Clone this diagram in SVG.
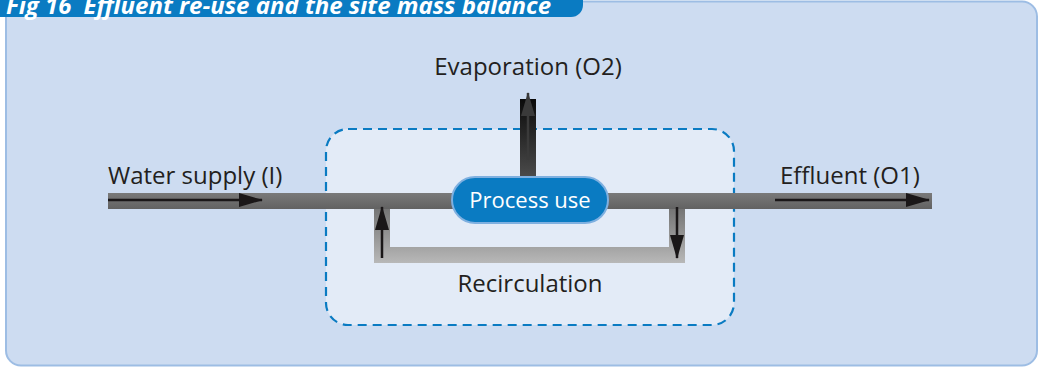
<svg xmlns="http://www.w3.org/2000/svg" width="1040" height="368" viewBox="0 0 1040 368">
<style>
.lbl{font-family:"Open Sans","Noto Sans","Liberation Sans",sans-serif;font-size:24px;fill:#231f20}
.title{font-family:"Open Sans","Noto Sans","Liberation Sans",sans-serif;font-size:24px;font-weight:bold;font-style:italic;fill:#ffffff}
.arr{stroke:#1a1718;stroke-width:2.5;fill:none}
</style>
<defs>
<linearGradient id="pipeH" x1="0" y1="0" x2="0" y2="1">
<stop offset="0" stop-color="#7a7a7a"/><stop offset="1" stop-color="#626262"/>
</linearGradient>
<linearGradient id="loop" x1="0" y1="0" x2="0" y2="1">
<stop offset="0" stop-color="#707070"/><stop offset="0.6" stop-color="#9a9a9a"/><stop offset="1" stop-color="#b8b8b8"/>
</linearGradient>
<linearGradient id="evap" x1="0" y1="0" x2="0" y2="1">
<stop offset="0" stop-color="#0a0a0a"/><stop offset="1" stop-color="#5a5a5a"/>
</linearGradient>
<marker id="ah" viewBox="0 0 24 14" refX="23" refY="7" markerWidth="24" markerHeight="14" markerUnits="userSpaceOnUse" orient="auto">
<path d="M0,0 L24,7 L0,14 z" fill="#1a1718"/>
</marker>
<marker id="ahE" viewBox="0 0 24 14" refX="23" refY="7" markerWidth="24" markerHeight="14" markerUnits="userSpaceOnUse" orient="auto">
<path d="M0,0 L24,7 L0,14 z" fill="#3a3a3a"/>
</marker>
</defs>

<g id="panel">
<rect x="6" y="1.5" width="1031" height="364" rx="15" fill="#cddcf1" stroke="#9dbde4" stroke-width="2"/>
</g>
<g id="title">
<path d="M0,0 H583 V5 A12,12 0 0 1 571,17 H0 z" fill="#0a7bc2"/>
<text class="title" x="6" y="14">Fig 16<tspan dx="12">Effluent re-use and the site mass balance</tspan></text>
</g>

<g id="boundary">
<rect x="326" y="129" width="408" height="196" rx="22" fill="#e3ebf7" stroke="#0a7bc2" stroke-width="2.2" stroke-dasharray="9 6"/>
</g>

<g id="connectors">
<path d="M374,205 V263 H685 V205 H669 V247 H390 V205 z" fill="url(#loop)"/>
<rect x="108" y="193" width="824" height="16" fill="url(#pipeH)"/>
<rect x="520" y="99" width="16" height="96" fill="url(#evap)"/>
<line class="arr" x1="108" y1="200" x2="262" y2="200" marker-end="url(#ah)"/>
<line class="arr" x1="775" y1="200" x2="929" y2="200" marker-end="url(#ah)"/>
<line class="arr" x1="382" y1="258" x2="382" y2="207" marker-end="url(#ah)"/>
<line class="arr" x1="677" y1="207" x2="677" y2="258" marker-end="url(#ah)"/>
<line class="arr" x1="528" y1="160" x2="528" y2="93" marker-end="url(#ahE)" style="stroke:#3a3a3a"/>
</g>

<g id="process">
<rect x="452" y="177" width="156" height="46" rx="23" fill="#0a7bc2" stroke="#7fb0e0" stroke-width="2"/>
<text x="530" y="208" text-anchor="middle" style="font-family:'Open Sans','Noto Sans','Liberation Sans',sans-serif;font-size:22px;fill:#ffffff">Process use</text>
</g>

<g id="labels">
<text class="lbl" x="108" y="184">Water supply (I)</text>
<text class="lbl" x="780" y="184">Effluent (O1)</text>
<text class="lbl" x="528" y="75" text-anchor="middle">Evaporation (O2)</text>
<text class="lbl" x="530" y="292" text-anchor="middle">Recirculation</text>
</g>
</svg>
